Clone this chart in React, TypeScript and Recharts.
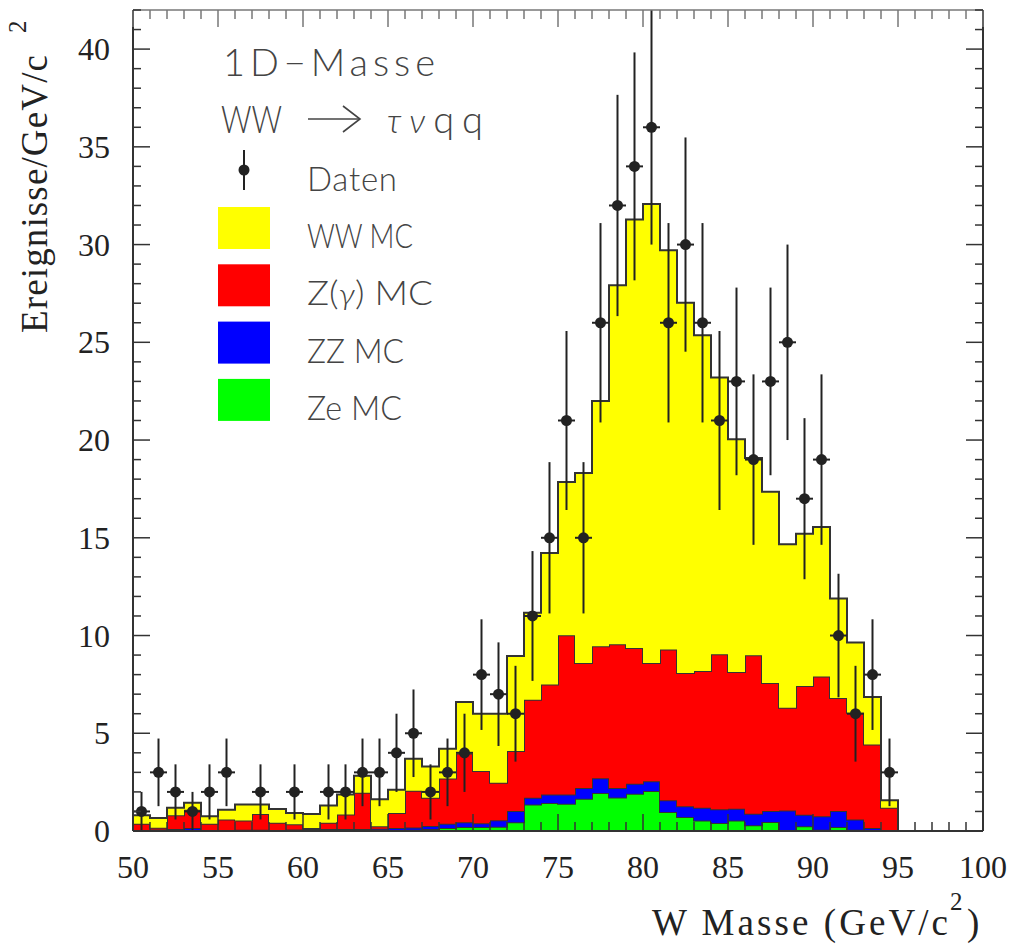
import React from 'react';
import { ComposedChart, Area, Scatter, ErrorBar, XAxis, YAxis, Legend } from 'recharts';

// Histogram bins (lower edges, 1 GeV wide)
const binStarts = [50,51,52,53,54,55,56,57,58,59,60,61,62,63,64,65,66,67,68,69,70,71,72,73,74,75,76,77,78,79,80,81,82,83,84,85,86,87,88,89,90,91,92,93,94];
const zeMC = [0.02,0.02,0.03,0.05,0.02,0.02,0.03,0.05,0.02,0.05,0.03,0.03,0.05,0.03,0.05,0.05,0.07,0.10,0.15,0.20,0.20,0.22,0.45,1.36,1.43,1.40,1.65,1.95,1.72,1.91,2.04,0.97,0.71,0.54,0.41,0.54,0.29,0.46,0.02,0.24,0.07,0.20,0.07,0,0];
const zzMC = [0.03,0.06,0.07,0.10,0.03,0.03,0.03,0.01,0.03,0.03,0.07,0.07,0.05,0.07,0.07,0.10,0.11,0.15,0.22,0.25,0.20,0.33,0.57,0.34,0.44,0.47,0.55,0.75,0.48,0.51,0.51,0.60,0.56,0.65,0.70,0.60,0.59,0.56,1.03,0.59,0.69,0.82,0.52,0.15,0];
const zgMC = [0.32,0.09,0.70,0.94,0.32,0.54,0.48,0.81,0.37,0.26,0.05,0.32,0.75,1.86,0.12,0.77,1.88,1.45,2.31,3.51,2.67,1.92,3.07,5.02,5.62,8.14,6.39,6.75,7.35,6.94,6.04,7.72,6.81,6.99,7.93,6.99,8.11,6.55,5.26,6.59,7.15,5.78,5.46,4.28,1.19];
const wwMC = [0.43,0.49,0.39,0.36,0.39,0.50,0.82,0.49,0.70,0.58,0.72,0.89,1.02,0.87,1.38,1.19,1.64,1.60,1.53,2.64,2.93,3.53,4.86,4.45,6.73,7.85,9.73,12.55,18.37,21.92,23.48,20.42,18.94,17.18,14.16,11.91,10.09,9.78,8.36,7.79,7.64,5.09,3.59,2.42,0.38];
const histEnd = 95;

// Data points (bin centres, counts, statistical errors)
const dataX = [50.5,51.5,52.5,53.5,54.5,55.5,57.5,59.5,61.5,62.5,63.5,64.5,65.5,66.5,67.5,68.5,69.5,70.5,71.5,72.5,73.5,74.5,75.5,76.5,77.5,78.5,79.5,80.5,81.5,82.5,83.5,84.5,85.5,86.5,87.5,88.5,89.5,90.5,91.5,92.5,93.5,94.5];
const dataN = [1,3,2,1,2,3,2,2,2,2,3,3,4,5,2,3,4,8,7,6,11,15,21,15,26,32,34,36,26,30,26,21,23,19,23,25,17,19,10,6,8,3];
const dataErr = [1,1.73,1.41,1,1.41,1.73,1.41,1.41,1.41,1.41,1.73,1.73,2,2.24,1.41,1.73,2,2.83,2.65,2.45,3.32,3.87,4.58,3.87,5.10,5.66,5.83,6,5.10,5.48,5.10,4.58,4.80,4.36,4.80,5,4.12,4.36,3.16,2.45,2.83,1.73];
const binHalfWidth = 0.5;

// Axes
const xTicks = [50,51,52,53,54,55,56,57,58,59,60,61,62,63,64,65,66,67,68,69,70,71,72,73,74,75,76,77,78,79,80,81,82,83,84,85,86,87,88,89,90,91,92,93,94,95,96,97,98,99,100];
const yTicks = [0,1,2,3,4,5,6,7,8,9,10,11,12,13,14,15,16,17,18,19,20,21,22,23,24,25,26,27,28,29,30,31,32,33,34,35,36,37,38,39,40,41,42];
const xDomain = [50, 100];
const yDomain = [0, 42];

const legendEntries = [
  { name: 'WW MC', color: '#ffff00', len: 106 },
  { name: 'Z(γ) MC', color: '#ff0000', len: 126 },
  { name: 'ZZ MC', color: '#0000ff', len: 97 },
  { name: 'Ze MC', color: '#00ff00', len: 95 },
];

const histData = [
  ...binStarts.map((x, i) => ({ x, ze: zeMC[i], zz: zzMC[i], zg: zgMC[i], ww: wwMC[i] })),
  { x: histEnd, ze: 0, zz: 0, zg: 0, ww: 0 },
];
const pointData = dataX.map((x, i) => ({ x, y: dataN[i], err: dataErr[i], xerr: binHalfWidth }));

const SERIF = "'Liberation Serif', 'Times New Roman', serif";
const SANS = "Lato, 'Liberation Sans', sans-serif";
const GREEK = "Lato, 'DejaVu Sans', sans-serif";
const AX = '#333';

const BottomTick = (p: any) => {
  const v = p.payload.value;
  const major = v % 5 === 0;
  return (
    <g>
      <line x1={p.x} x2={p.x} y1={p.y} y2={p.y - (major ? 17 : 9)} stroke={AX} strokeWidth={1.5} />
      {major && (
        <text x={p.x} y={p.y + 47} textAnchor="middle" fontFamily={SERIF} fontSize={32} fill="#222">{v}</text>
      )}
    </g>
  );
};
const TopTick = (p: any) => {
  const v = p.payload.value;
  const major = v % 5 === 0;
  return <line x1={p.x} x2={p.x} y1={p.y} y2={p.y + (major ? 17 : 9)} stroke="#777" strokeWidth={1.5} />;
};
const LeftTick = (p: any) => {
  const v = p.payload.value;
  const major = v % 5 === 0;
  return (
    <g>
      <line x1={p.x} x2={p.x + (major ? 17 : 8)} y1={p.y} y2={p.y} stroke={AX} strokeWidth={1.5} />
      {major && (
        <text x={p.x - 23} y={p.y + 11} textAnchor="end" fontFamily={SERIF} fontSize={32} fill="#222">{v}</text>
      )}
    </g>
  );
};
const RightTick = (p: any) => {
  const v = p.payload.value;
  const major = v % 5 === 0;
  return <line x1={p.x} x2={p.x - (major ? 17 : 8)} y1={p.y} y2={p.y} stroke={AX} strokeWidth={1.5} />;
};

const YTitle = () => (
  <g fill="#222" fontFamily={SERIF}>
    <text x={47} y={333} fontSize={37} transform="rotate(-90, 47, 333)" textLength={278} lengthAdjust="spacing">Ereignisse/GeV/c</text>
    <text x={26} y={33} fontSize={25} transform="rotate(-90, 26, 33)">2</text>
  </g>
);
const XTitle = () => (
  <g fill="#222" fontFamily={SERIF}>
    <text x={652} y={935} fontSize={37} textLength={296} lengthAdjust="spacing">W Masse (GeV/c</text>
    <text x={950} y={910} fontSize={25}>2</text>
    <text x={967} y={935} fontSize={37}>)</text>
  </g>
);

const LegendBox = () => (
  <svg width={520} height={440} style={{ display: 'block' }}>
    <g fill="#444" fontFamily={SANS} fontWeight={300}>
      <text x={223} y={76} fontSize={38} textLength={212} lengthAdjust="spacing">1D−Masse</text>
      <text x={221} y={133} fontSize={38} textLength={61} lengthAdjust="spacingAndGlyphs">WW</text>
      <g stroke="#444" strokeWidth={1.6} fill="none">
        <line x1={308} y1={119} x2={359} y2={119} />
        <polyline points="343,106 360,119 343,132" />
      </g>
      <text x={387} y={133} fontSize={38} textLength={96} lengthAdjust="spacing">
        <tspan fontFamily={GREEK} fontStyle="italic" fontWeight={300} fontSize={34}>τν</tspan>
        <tspan>qq</tspan>
      </text>
      <line x1={244} x2={244} y1={150} y2={190} stroke="#222" strokeWidth={2} />
      <circle cx={244} cy={170} r={5.5} fill="#222" />
      <text x={307} y={191} fontSize={33} textLength={90} lengthAdjust="spacing">Daten</text>
      {legendEntries.map((e, i) => {
        const top = 207 + i * 57.3;
        return (
          <g key={e.name}>
            <rect x={218} y={top} width={52} height={42} fill={e.color} />
            <text x={307} y={top + 41} fontSize={33} textLength={e.len} lengthAdjust="spacingAndGlyphs">
              {e.name.includes('γ') ? (
                <>
                  <tspan>Z(</tspan>
                  <tspan fontFamily={GREEK} fontStyle="italic" fontSize={30}>γ</tspan>
                  <tspan>) MC</tspan>
                </>
              ) : e.name}
            </text>
          </g>
        );
      })}
    </g>
  </svg>
);

export default function App() {
  return (
    <div style={{ position: 'absolute', left: 0, top: 0, background: '#fff' }}>
      <ComposedChart width={1015} height={951} data={histData} margin={{ top: 0, right: 0, bottom: 0, left: 0 }}>
        <Area dataKey="ze" name="Ze MC" stackId="mc" type="stepAfter" fill="#00ff00" fillOpacity={1} stroke="#333" strokeWidth={2} dot={false} activeDot={false} isAnimationActive={false} />
        <Area dataKey="zz" name="ZZ MC" stackId="mc" type="stepAfter" fill="#0000ff" fillOpacity={1} stroke="#333" strokeWidth={2} dot={false} activeDot={false} isAnimationActive={false} />
        <Area dataKey="zg" name="Z(γ) MC" stackId="mc" type="stepAfter" fill="#ff0000" fillOpacity={1} stroke="#333" strokeWidth={2} dot={false} activeDot={false} isAnimationActive={false} />
        <Area dataKey="ww" name="WW MC" stackId="mc" type="stepAfter" fill="#ffff00" fillOpacity={1} stroke="#333" strokeWidth={2} dot={false} activeDot={false} isAnimationActive={false} />
        <Scatter data={pointData} dataKey="y" name="Daten" fill="#222" isAnimationActive={false}
          shape={(p: any) => <circle cx={p.cx} cy={p.cy} r={5.5} fill="#222" />}>
          <ErrorBar dataKey="err" direction="y" width={0} stroke="#222" strokeWidth={2} isAnimationActive={false} />
          <ErrorBar dataKey="xerr" direction="x" width={0} stroke="#222" strokeWidth={2} isAnimationActive={false} />
        </Scatter>
        <XAxis dataKey="x" type="number" domain={xDomain} ticks={xTicks} interval={0} allowDataOverflow height={120}
          tickSize={0} tickMargin={0} tick={<BottomTick />} tickLine={false} axisLine={{ stroke: AX, strokeWidth: 2 }}
          label={{ content: () => <XTitle /> }} />
        <XAxis xAxisId="top" orientation="top" dataKey="x" type="number" domain={xDomain} ticks={xTicks} interval={0} allowDataOverflow height={10}
          tickSize={0} tickMargin={0} tick={<TopTick />} tickLine={false} axisLine={{ stroke: '#777', strokeWidth: 1.5 }} />
        <YAxis type="number" domain={yDomain} ticks={yTicks} interval={0} allowDataOverflow width={133}
          tickSize={0} tickMargin={0} tick={<LeftTick />} tickLine={false} axisLine={{ stroke: AX, strokeWidth: 2 }}
          label={{ content: () => <YTitle /> }} />
        <YAxis yAxisId="right" orientation="right" type="number" domain={yDomain} ticks={yTicks} interval={0} allowDataOverflow width={32}
          tickSize={0} tickMargin={0} tick={<RightTick />} tickLine={false} axisLine={{ stroke: AX, strokeWidth: 2 }} />
        <Legend layout="horizontal" verticalAlign="middle" align="center" content={() => <LegendBox />}
          wrapperStyle={{ left: 0, top: 0, width: 520, height: 440 }} />
      </ComposedChart>
    </div>
  );
}
